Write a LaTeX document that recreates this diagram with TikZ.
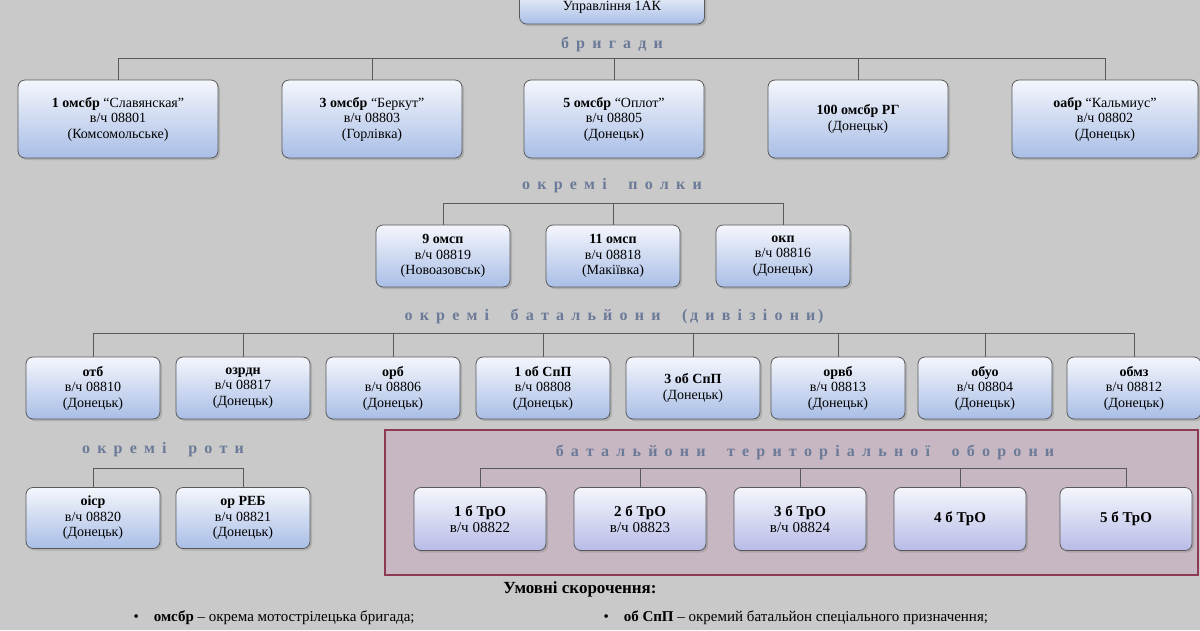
\documentclass[tikz,border=0pt]{standalone}
\usepackage{fontspec}
\setmainfont{Liberation Serif}
\usetikzlibrary{shadows}
\definecolor{bg}{HTML}{C9C9C9}
\definecolor{boxtop}{HTML}{F4F6FC}
\definecolor{boxbot}{HTML}{A9BEE6}
\definecolor{hdr}{HTML}{6B7A98}
\definecolor{trofill}{HTML}{C6B7C3}
\definecolor{troline}{HTML}{8E3A55}
\definecolor{trbot}{HTML}{B8BCE6}
\newcommand{\lsp}{\hspace{0.45em}}
\tikzset{
 unit/.style={draw=gray!70!black, line width=0.8pt, rounded corners=7pt, top color=boxtop, bottom color=boxbot, minimum height=#1, align=center, font=\fontsize{14}{15.5}\selectfont, drop shadow={shadow xshift=2pt,shadow yshift=-2pt,opacity=0.35}},
 hd/.style={font=\bfseries\fontsize{16}{18}\selectfont, text=hdr},
 conn/.style={draw=gray!70!black, line width=0.9pt}
}
\begin{document}
\begin{tikzpicture}[x=1pt,y=-1pt]
\useasboundingbox[fill=bg] (0,0) rectangle (1200,630);
\node[unit=34pt, minimum width=185pt] (top) at (612,7) {Управління 1АК};
\node[hd] (hb) at (612,44) {б\lsp р\lsp и\lsp г\lsp а\lsp д\lsp и};
% brigades
\foreach \n/\x/\w/\t in {b1/118/200/{\textbf{1 омсбр} “Славянская”\\в/ч 08801\\(Комсомольське)},
  b2/372/180/{\textbf{3 омсбр} “Беркут”\\в/ч 08803\\(Горлівка)},
  b3/614/180/{\textbf{5 омсбр} “Оплот”\\в/ч 08805\\(Донецьк)},
  b4/858/180/{\textbf{100 омсбр РГ}\\(Донецьк)},
  b5/1105/186/{\textbf{оабр} “Кальмиус”\\в/ч 08802\\(Донецьк)}}
  \node[unit=78pt, minimum width=\w pt] (\n) at (\x,119) {\t};
\coordinate (bl) at (118,58); \coordinate (br) at (1105,58);
\draw[conn] (bl) -- (br);
\foreach \n in {b1,b2,b3,b4,b5} \draw[conn] (\n.north |- bl) -- (\n.north);
% regiments
\node[hd] (hp) at (612,186) {о\lsp к\lsp р\lsp е\lsp м\lsp і\lsp\lsp\lsp п\lsp о\lsp л\lsp к\lsp и};
\foreach \n/\x/\t in {p1/443/{\textbf{9 омсп}\\в/ч 08819\\(Новоазовськ)}, p2/613/{\textbf{11 омсп}\\в/ч 08818\\(Макіївка)}, p3/783/{\textbf{окп}\\в/ч 08816\\(Донецьк)}}
  \node[unit=62pt, minimum width=134pt] (\n) at (\x,256) {\t};
\coordinate (pl) at (443,203); \coordinate (pr) at (783,203);
\draw[conn] (pl) -- (pr);
\foreach \n in {p1,p2,p3} \draw[conn] (\n.north |- pl) -- (\n.north);
% battalions
\node[hd] (hbt) at (614,316) {о\lsp к\lsp р\lsp е\lsp м\lsp і\lsp\lsp\lsp б\lsp а\lsp т\lsp а\lsp л\lsp ь\lsp й\lsp о\lsp н\lsp и\lsp\lsp\lsp (\,д\lsp и\lsp в\lsp і\lsp з\lsp і\lsp о\lsp н\lsp и\,)};
\foreach \n/\x/\t in {t1/93/{\textbf{отб}\\в/ч 08810\\(Донецьк)}, t2/243/{\textbf{озрдн}\\в/ч 08817\\(Донецьк)},
 t3/393/{\textbf{орб}\\в/ч 08806\\(Донецьк)}, t4/543/{\textbf{1 об СпП}\\в/ч 08808\\(Донецьк)},
 t5/693/{\textbf{3 об СпП}\\(Донецьк)}, t6/838/{\textbf{орвб}\\в/ч 08813\\(Донецьк)},
 t7/985/{\textbf{обуо}\\в/ч 08804\\(Донецьк)}, t8/1134/{\textbf{обмз}\\в/ч 08812\\(Донецьк)}}
  \node[unit=62pt, minimum width=134pt] (\n) at (\x,388) {\t};
\coordinate (tl) at (93,333); \coordinate (tr) at (1134,333);
\draw[conn] (tl) -- (tr);
\foreach \n in {t1,t2,t3,t4,t5,t6,t7,t8} \draw[conn] (\n.north |- tl) -- (\n.north);
% companies
\node[hd] (hr) at (163,450) {о\lsp к\lsp р\lsp е\lsp м\lsp і\lsp\lsp\lsp р\lsp о\lsp т\lsp и};
\foreach \n/\x/\t in {r1/93/{\textbf{оіср}\\в/ч 08820\\(Донецьк)}, r2/243/{\textbf{ор РЕБ}\\в/ч 08821\\(Донецьк)}}
  \node[unit=61pt, minimum width=134pt] (\n) at (\x,518) {\t};
\coordinate (rl) at (93,468); \coordinate (rr) at (243,468);
\draw[conn] (rl) -- (rr);
\foreach \n in {r1,r2} \draw[conn] (\n.north |- rl) -- (\n.north);
% territorial defence
\node[draw=troline, line width=1.3pt, fill=trofill, minimum width=813pt, minimum height=145pt] (frame) at (791.5,502.5) {};
\node[hd] (ht) at (805,452) {б\lsp а\lsp т\lsp а\lsp л\lsp ь\lsp й\lsp о\lsp н\lsp и\lsp\lsp\lsp т\lsp е\lsp р\lsp и\lsp т\lsp о\lsp р\lsp і\lsp а\lsp л\lsp ь\lsp н\lsp о\lsp ї\lsp\lsp\lsp о\lsp б\lsp о\lsp р\lsp о\lsp н\lsp и};
\foreach \n/\x/\t in {d1/480/{\textbf{1 б ТрО}\\в/ч 08822}, d2/640/{\textbf{2 б ТрО}\\в/ч 08823}, d3/800/{\textbf{3 б ТрО}\\в/ч 08824}, d4/960/{\textbf{4 б ТрО}}, d5/1126/{\textbf{5 б ТрО}}}
  \node[unit=63pt, minimum width=132pt, bottom color=trbot, font=\fontsize{15}{16.5}\selectfont] (\n) at (\x,519) {\t};
\coordinate (dl) at (480,468); \coordinate (dr) at (1126,468);
\draw[conn] (dl) -- (dr);
\foreach \n in {d1,d2,d3,d4,d5} \draw[conn] (\n.north |- dl) -- (\n.north);
% legend
\node[font=\bfseries\fontsize{17}{19}\selectfont] (lg) at (580,589) {Умовні скорочення:};
\node[anchor=west, font=\fontsize{15}{17}\selectfont] (l1) at (130,618) {•\quad\textbf{омсбр} – окрема мотострілецька бригада;};
\node[anchor=west, font=\fontsize{15}{17}\selectfont] (l2) at (600,618) {•\quad\textbf{об СпП} – окремий батальйон спеціального призначення;};
\end{tikzpicture}
\end{document}
